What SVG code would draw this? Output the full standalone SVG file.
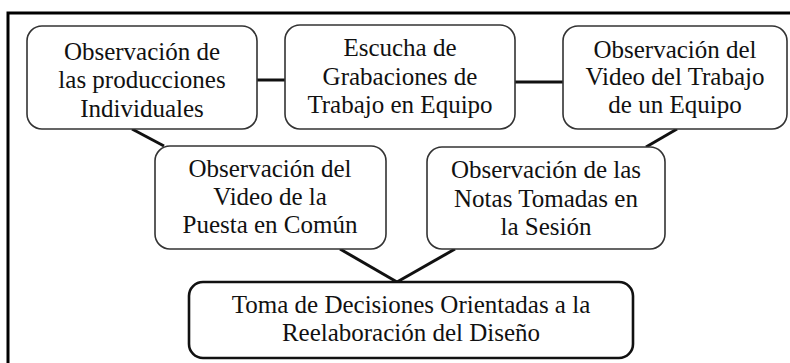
<svg xmlns="http://www.w3.org/2000/svg" width="790" height="363" viewBox="0 0 790 363">
<style>
.box{fill:#fff;stroke:#333;stroke-width:1.6}
.main{fill:#fff;stroke:#111;stroke-width:2.6}
.conn{stroke:#111;stroke-width:3;fill:none}
.frame{stroke:#000;stroke-width:3;fill:none}
.t{font-size:25px;fill:#111;text-anchor:middle}
</style>
<rect width="790" height="363" fill="#fff"/>
<path class="frame" d="M8,363 V13 H790"/>
<g id="connectors">
<line class="conn" x1="257" y1="80" x2="285" y2="80"/>
<line class="conn" x1="515" y1="82" x2="563" y2="82"/>
<line class="conn" x1="132" y1="129" x2="164" y2="146"/>
<line class="conn" x1="677" y1="129" x2="646" y2="147"/>
<line class="conn" x1="340" y1="249" x2="397" y2="282"/>
<line class="conn" x1="455" y1="249" x2="397" y2="282"/>
</g>
<g class="t" font-family="Liberation Serif, DejaVu Serif, serif">
<g id="node-producciones">
<rect class="box" x="27" y="26" width="230" height="103" rx="15"/>
<text x="142" y="60">Observación de</text>
<text x="142" y="88">las producciones</text>
<text x="142" y="117">Individuales</text>
</g>
<g id="node-grabaciones">
<rect class="box" x="285" y="25" width="230" height="104" rx="15"/>
<text x="400" y="56">Escucha de</text>
<text x="400" y="85">Grabaciones de</text>
<text x="400" y="113">Trabajo en Equipo</text>
</g>
<g id="node-video-equipo">
<rect class="box" x="563" y="26" width="224" height="103" rx="15"/>
<text x="675" y="58">Observación del</text>
<text x="675" y="85">Video del Trabajo</text>
<text x="675" y="113">de un Equipo</text>
</g>
<g id="node-puesta">
<rect class="box" x="155" y="146" width="231" height="103" rx="15"/>
<text x="270" y="177">Observación del</text>
<text x="270" y="205">Video de la</text>
<text x="270" y="233">Puesta en Común</text>
</g>
<g id="node-notas">
<rect class="box" x="427" y="147" width="238" height="102" rx="15"/>
<text x="546" y="178">Observación de las</text>
<text x="546" y="207">Notas Tomadas en</text>
<text x="546" y="235">la Sesión</text>
</g>
<g id="node-decisiones">
<rect class="main" x="189" y="282" width="444" height="76" rx="14"/>
<text x="411" y="313">Toma de Decisiones Orientadas a la</text>
<text x="411" y="341">Reelaboración del Diseño</text>
</g>
</g>
</svg>
